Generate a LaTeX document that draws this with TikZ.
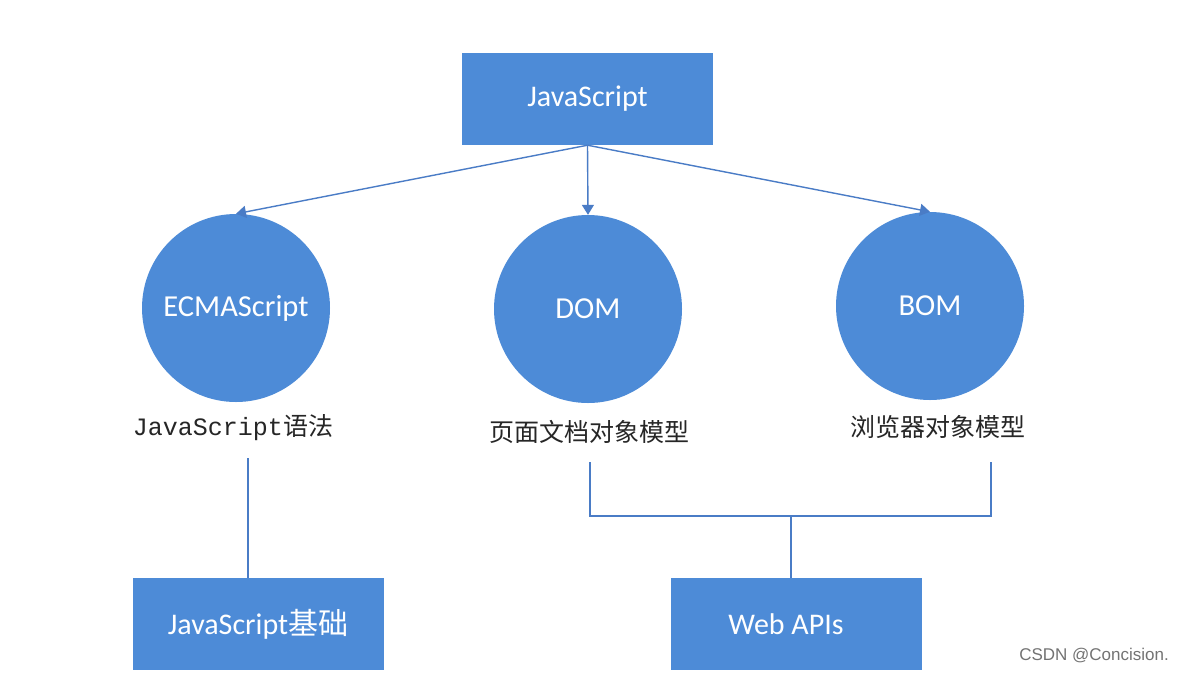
\documentclass[tikz,border=0pt]{standalone}
\usepackage{fontspec}
\setmainfont{Carlito}
\newfontfamily\cjk{Noto Sans CJK SC}
\newfontfamily\monofont{Liberation Mono}
\newfontfamily\wmfont{Liberation Sans}
\usetikzlibrary{arrows.meta}
\definecolor{boxblue}{HTML}{4D8BD7}
\definecolor{lineblue}{HTML}{4A7CC6}
\begin{document}
\begin{tikzpicture}[x=1pt,y=-1pt,
  blockbox/.style={draw=none,fill=boxblue,minimum width=251pt,minimum height=92pt,inner sep=0pt,text=white,font=\fontsize{30}{34}\selectfont},
  ball/.style={circle,draw=none,fill=boxblue,minimum size=188pt,inner sep=0pt,text=white,font=\fontsize{30.5}{34}\selectfont},
  caption/.style={inner sep=0pt,anchor=center,font=\fontsize{25}{28}\selectfont,text=black!85},
  conn/.style={draw=lineblue,line width=1.4pt},
  arr/.style={conn,-{Triangle[length=10pt,width=12pt]}}]
\useasboundingbox (0,0) rectangle (1191,673);
\fill[white] (0,0) rectangle (1191,673);
\node[blockbox] (top) at (587.5,99) {JavaScript};
\node[ball] (ecma) at (236,308) {ECMAScript};
\node[ball] (dom) at (588,309) {DOM};
\node[ball] (bom) at (930,306) {BOM};
\node[caption] (lab1) at (233,428) {{\monofont JavaScript}{\cjk 语法}};
\node[caption] (lab2) at (589,432) {\cjk 页面文档对象模型};
\node[caption] (lab3) at (938,427) {\cjk 浏览器对象模型};
\node[blockbox] (base) at (258,624) {JavaScript{\cjk 基础}};
\node[blockbox] (web) at (796,624) {\hspace*{-20pt}Web APIs};
\node[inner sep=0pt,text=black!55,font=\wmfont\fontsize{17}{20}\selectfont] (wm) at (1094,656) {CSDN @Concision.};
\draw[arr] (top.south) -- (ecma.north);
\draw[arr] (top.south) -- (dom.north);
\draw[arr] (top.south) -- (bom.north);
\coordinate (l1a) at (248,458);
\coordinate (d1) at (590,462);
\coordinate (b1) at (991,462);
\coordinate (mid) at (791,516);
\draw[conn] (l1a) -- (l1a |- base.north);
\draw[conn] (d1) |- (mid) -| (b1);
\draw[conn] (mid) -- (mid |- web.north);
\end{tikzpicture}
\end{document}
